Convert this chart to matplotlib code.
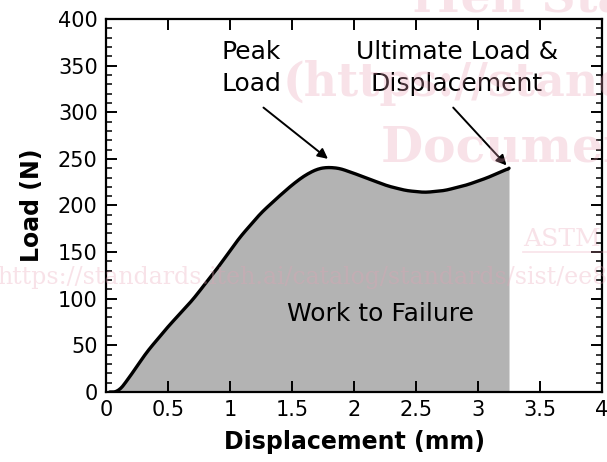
import numpy as np
import matplotlib.pyplot as plt
from matplotlib.lines import Line2D
from matplotlib.ticker import MultipleLocator

# curve
disp = [0.03, 0.10, 0.19, 0.33, 0.50, 0.70, 0.90, 1.08, 1.25, 1.38, 1.50, 1.60, 1.70, 1.78,
        1.88, 1.99, 2.13, 2.27, 2.42, 2.57, 2.73, 2.91, 3.08, 3.25]
load = [0, 0, 16, 43, 70, 99, 133, 166, 192, 208, 222, 232, 239, 241,
        240, 235, 228, 221, 216, 214, 216, 222, 230, 240]

xticks = [0, 0.5, 1, 1.5, 2, 2.5, 3, 3.5, 4]
xticklabels = ["0", "0.5", "1", "1.5", "2", "2.5", "3", "3.5", "4"]

plt.rcParams["font.family"] = "DejaVu Sans"

fig = plt.figure(figsize=(6.07, 4.62), dpi=100)
ax = fig.add_axes([0.1746, 0.1515, 0.8172, 0.8074])

# light smoothing of the read points for drawing
xs = np.linspace(disp[0], disp[-1], 400)
ys = np.interp(xs, disp, load)
k = 5
ys_s = np.convolve(np.pad(ys, k, mode="edge"), np.ones(2 * k + 1) / (2 * k + 1), mode="same")[k:-k]
ys_s[-1] = load[-1]

ax.fill_between(xs, 0, ys_s, color="#b3b3b3", lw=0, zorder=1)
ax.plot(xs, ys_s, color="black", lw=2.4, zorder=3, solid_capstyle="round")

ax.set_xlim(0, 4)
ax.set_ylim(0, 400)
ax.set_xticks(xticks)
ax.set_xticklabels(xticklabels)
ax.yaxis.set_major_locator(MultipleLocator(50))
ax.yaxis.set_minor_locator(MultipleLocator(10))
ax.tick_params(axis="both", which="major", direction="in", length=8, width=1.4,
               labelsize=15, top=True, right=True, pad=6)
ax.tick_params(axis="y", which="minor", direction="in", length=4, width=1.1, right=True)
for s in ax.spines.values():
    s.set_linewidth(1.6)

ax.set_xlabel("Displacement (mm)", fontsize=17, fontweight="bold", labelpad=7)
ax.set_ylabel("Load (N)", fontsize=17, fontweight="bold", labelpad=10)

arrow = dict(arrowstyle="-|>", color="black", lw=1.4, shrinkA=0, shrinkB=0, mutation_scale=15)
ax.annotate("", xy=(1.79, 250), xytext=(1.27, 305), arrowprops=arrow)
ax.annotate("", xy=(3.23, 243), xytext=(2.80, 305), arrowprops=arrow)
ax.text(0.935, 377, "Peak\nLoad", fontsize=18, ha="left", va="top", linespacing=1.4)
ax.text(2.83, 377, "Ultimate Load &\nDisplacement", fontsize=18, ha="center",
        va="top", linespacing=1.4)
ax.text(2.21, 84, "Work to Failure", fontsize=18, ha="center", va="center", zorder=4)

# watermark from the source document
wm = dict(color="#e8a0b4", alpha=0.3, family="DejaVu Serif", zorder=10)
fig.text(0.68, 0.975, "iTeh Standards", fontsize=34, fontweight="bold", **wm)
fig.text(0.465, 0.792, "(https://standards.iteh.ai)", fontsize=33, fontweight="bold", **wm)
fig.text(0.628, 0.650, "Document Preview", fontsize=35, fontweight="bold", **wm)
fig.text(0.862, 0.468, "ASTM", fontsize=18, **wm)
fig.add_artist(Line2D([0.862, 1.0], [0.455, 0.455], transform=fig.transFigure,
                      color="#e8a0b4", alpha=0.3, lw=1.2, zorder=10))
fig.text(-0.005, 0.385, "https://standards.iteh.ai/catalog/standards/sist/ee8b", fontsize=17, **wm)

fig.savefig("out.png", dpi=100)
